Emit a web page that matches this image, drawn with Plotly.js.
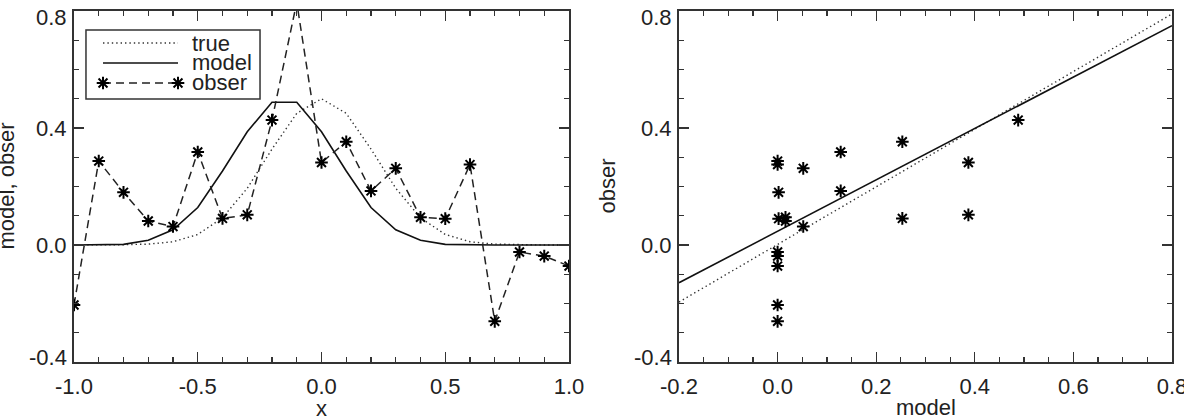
<!DOCTYPE html>
<html>
<head>
<meta charset="utf-8">
<script src="https://cdn.plot.ly/plotly-3.0.1.min.js"></script>
<style>
  html, body { margin: 0; padding: 0; background: #fff; }
  #chart { width: 1184px; height: 419px; }
</style>
</head>
<body>
<div id="chart"></div>
<script>
// Sample positions
const xGrid = [-1.0, -0.9, -0.8, -0.7, -0.6, -0.5, -0.4, -0.3, -0.2, -0.1, 0.0,
               0.1, 0.2, 0.3, 0.4, 0.5, 0.6, 0.7, 0.8, 0.9, 1.0];

// True profile
const trueVals = [0.000, 0.000, 0.001, 0.003, 0.011, 0.036, 0.093, 0.194, 0.328, 0.450, 0.500,
                  0.450, 0.328, 0.194, 0.093, 0.036, 0.011, 0.003, 0.001, 0.000, 0.000];

// Model profile
const modelVals = [0.000, 0.000, 0.002, 0.016, 0.052, 0.128, 0.253, 0.387, 0.488, 0.488, 0.387,
                   0.253, 0.128, 0.052, 0.016, 0.002, 0.000, 0.000, 0.000, 0.000, 0.000];

// Observations
const obserVals = [-0.205, 0.287, 0.180, 0.082, 0.063, 0.318, 0.091, 0.103, 0.427, 0.830, 0.282,
                   0.353, 0.185, 0.262, 0.095, 0.090, 0.275, -0.261, -0.024, -0.038, -0.072];

// Right panel reference lines: identity-like and fitted
const refLineX = [-0.2, 0.8];
const refLineY = [-0.195, 0.790];
const fitLineX = [-0.2, 0.8];
const fitLineY = [-0.129, 0.750];

// Tick labels
const leftXTicks = [-1.0, -0.5, 0.0, 0.5, 1.0];
const leftXText = ['-1.0', '-0.5', '0.0', '0.5', '1.0'];
const yTicks = [-0.4, 0.0, 0.4, 0.8];
const yText = ['-0.4', '0.0', '0.4', '0.8'];
const rightXTicks = [-0.2, 0.0, 0.2, 0.4, 0.6, 0.8];
const rightXText = ['-0.2', '0.0', '0.2', '0.4', '0.6', '0.8'];

// Legend entries
const legendNames = ['true', 'model', 'obser'];

const INK = '#222';
const FONT = { family: 'Liberation Sans, Arial, sans-serif', size: 22, color: INK };

const starMarker = { symbol: 'asterisk-open', size: 10.5, line: { width: 2, color: '#000' }, color: '#000' };
const dotLine = { color: '#333', width: 1.4, dash: '1.4px,3px' };
const solidLine = { color: '#111', width: 1.6 };
const dashLine = { color: '#222', width: 1.5, dash: '8px,5px' };

const EPS = 1e-6;
const Y_MIN = -0.4, Y_MAX = 0.8;

function axisStyle(extra) {
  return Object.assign({
    showline: true, linecolor: '#333', linewidth: 1.6, mirror: 'allticks',
    ticks: 'inside', ticklen: 10, tickwidth: 1.4, tickcolor: '#333',
    showgrid: false, zeroline: false, tickmode: 'array',
    ticklabeloverflow: 'allow',
    tickfont: FONT, fixedrange: true
  }, extra);
}

const yDomain = [57 / 419, 408 / 419];
const leftDomain = [74 / 1184, 569 / 1184];
const rightDomain = [679 / 1184, 1172 / 1184];

const traces = [
  { x: xGrid, y: trueVals, type: 'scatter', mode: 'lines', line: dotLine, xaxis: 'x', yaxis: 'y', hoverinfo: 'skip' },
  { x: xGrid, y: modelVals, type: 'scatter', mode: 'lines', line: solidLine, xaxis: 'x', yaxis: 'y', hoverinfo: 'skip' },
  { x: xGrid, y: obserVals, type: 'scatter', mode: 'lines+markers', line: dashLine, marker: starMarker, xaxis: 'x', yaxis: 'y', hoverinfo: 'skip' },
  { x: refLineX, y: refLineY, type: 'scatter', mode: 'lines', line: dotLine, xaxis: 'x2', yaxis: 'y2', hoverinfo: 'skip' },
  { x: fitLineX, y: fitLineY, type: 'scatter', mode: 'lines', line: solidLine, xaxis: 'x2', yaxis: 'y2', hoverinfo: 'skip' },
  { x: modelVals, y: obserVals, type: 'scatter', mode: 'markers', marker: starMarker, xaxis: 'x2', yaxis: 'y2', hoverinfo: 'skip' }
];

// Legend box drawn inside the left panel, on a unit overlay axis
const legX0 = 0.0586, legX1 = 0.2101, legTextX = 0.2343;
const legRows = [0.9088, 0.8519, 0.7949];
const legStyles = [
  { mode: 'lines', line: dotLine },
  { mode: 'lines', line: solidLine },
  { mode: 'lines+markers', line: dashLine, marker: starMarker }
];
legStyles.forEach((s, i) => {
  traces.push(Object.assign({
    x: [legX0, legX1], y: [legRows[i], legRows[i]], type: 'scatter',
    xaxis: 'x3', yaxis: 'y3', hoverinfo: 'skip', cliponaxis: false
  }, s));
});

const annotations = legendNames.map((name, i) => ({
  xref: 'x3', yref: 'y3', x: legTextX, y: legRows[i], text: name,
  showarrow: false, xanchor: 'left', yanchor: 'middle', font: FONT
}));

// Y tick labels: the end labels are nudged inward so they stay inside the frame
[['y', leftDomain[0]], ['y2', rightDomain[0]]].forEach(([yref, xPaper]) => {
  yTicks.forEach((v, i) => {
    let shift = 0;
    if (v === Y_MAX) shift = -7;
    if (v === Y_MIN) shift = 5;
    annotations.push({
      xref: 'paper', yref: yref, x: xPaper, y: v, text: yText[i],
      xanchor: 'right', yanchor: 'middle', xshift: -5, yshift: shift,
      showarrow: false, font: FONT
    });
  });
});

annotations.push(
  { xref: 'paper', yref: 'paper', x: (leftDomain[0] + leftDomain[1]) / 2, y: -4 / 419,
    text: 'x', showarrow: false, xanchor: 'center', yanchor: 'bottom', font: FONT },
  { xref: 'paper', yref: 'paper', x: (rightDomain[0] + rightDomain[1]) / 2, y: -3 / 419,
    text: 'model', showarrow: false, xanchor: 'center', yanchor: 'bottom', font: FONT },
  { xref: 'paper', yref: 'paper', x: 6 / 1184, y: (yDomain[0] + yDomain[1]) / 2,
    text: 'model, obser', textangle: -90, showarrow: false, xanchor: 'center', yanchor: 'middle', font: FONT },
  { xref: 'paper', yref: 'paper', x: 607 / 1184, y: (yDomain[0] + yDomain[1]) / 2,
    text: 'obser', textangle: -90, showarrow: false, xanchor: 'center', yanchor: 'middle', font: FONT }
);

const minorStyle = { ticks: 'inside', ticklen: 5, tickwidth: 1.2, tickcolor: '#333' };

const layout = {
  width: 1184, height: 419,
  margin: { l: 0, r: 0, t: 0, b: 0 },
  paper_bgcolor: '#fff', plot_bgcolor: '#fff',
  showlegend: false,
  font: FONT,
  xaxis: axisStyle({ domain: leftDomain, range: [-1 - EPS, 1 + EPS], anchor: 'y',
    tickvals: leftXTicks, ticktext: leftXText, ticklabelstandoff: 4,
    minor: Object.assign({ dtick: 0.1, tick0: -1 }, minorStyle) }),
  yaxis: axisStyle({ domain: yDomain, range: [Y_MIN - EPS, Y_MAX + EPS], anchor: 'x',
    tickvals: yTicks, showticklabels: false,
    minor: Object.assign({ dtick: 0.1, tick0: -0.4 }, minorStyle) }),
  xaxis2: axisStyle({ domain: rightDomain, range: [-0.2 - EPS, 0.8 + EPS], anchor: 'y2',
    tickvals: rightXTicks, ticktext: rightXText, ticklabelstandoff: 4,
    minor: Object.assign({ dtick: 0.05, tick0: -0.2 }, minorStyle) }),
  yaxis2: axisStyle({ domain: yDomain, range: [Y_MIN - EPS, Y_MAX + EPS], anchor: 'x2',
    tickvals: yTicks, showticklabels: false,
    minor: Object.assign({ dtick: 0.1, tick0: -0.4 }, minorStyle) }),
  xaxis3: { domain: leftDomain, range: [0, 1], visible: false, anchor: 'y3', overlaying: 'x', fixedrange: true },
  yaxis3: { domain: yDomain, range: [0, 1], visible: false, anchor: 'x3', overlaying: 'y', fixedrange: true },
  shapes: [
    { type: 'rect', xref: 'x3', yref: 'y3', x0: 0.0242, x1: 0.3758, y0: 0.7493, y1: 0.9459,
      line: { color: '#333', width: 1.5 }, fillcolor: 'rgba(0,0,0,0)' }
  ],
  annotations: annotations
};

Plotly.newPlot('chart', traces, layout, { staticPlot: true, displayModeBar: false });
</script>
</body>
</html>
